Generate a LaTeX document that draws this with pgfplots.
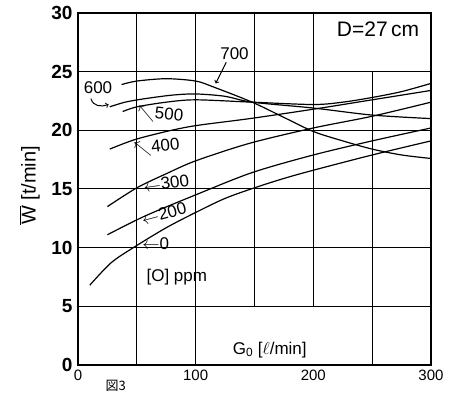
\documentclass[border=0pt]{standalone}
\usepackage{pgfplots}
\pgfplotsset{compat=1.18}
\usepackage{fontspec}
\setmainfont{Liberation Sans}
\newfontfamily\cjk{Noto Sans CJK JP}
\begin{document}
\begin{tikzpicture}
\begin{axis}[
  at={(0,0)}, anchor=south west,
  scale only axis, width=353pt, height=352pt,
  xmin=0, xmax=300, ymin=0, ymax=30,
  xtick={0,100,200,300}, ytick={0,5,10,15,20,25,30},
  major tick length=0pt,
  axis line style={line width=1.5pt},
  /pgf/number format/assume math mode=true,
  yticklabel style={font=\fontsize{19}{19}\selectfont\bfseries, xshift=-2pt},
  xticklabel style={font=\fontsize{15}{15}\selectfont, yshift=-1pt},
  clip=false,
]
% grid
\draw[line width=1pt] (axis cs:50,0) -- (axis cs:50,30);
\draw[line width=1pt] (axis cs:100,0) -- (axis cs:100,30);
\draw[line width=1pt] (axis cs:150,5) -- (axis cs:150,30);
\draw[line width=1pt] (axis cs:200,5) -- (axis cs:200,30);
\draw[line width=1pt] (axis cs:250,0) -- (axis cs:250,25);
\draw[line width=1pt] (axis cs:0,5) -- (axis cs:300,5);
\draw[line width=1pt] (axis cs:0,10) -- (axis cs:300,10);
\draw[line width=1pt] (axis cs:0,15.02) -- (axis cs:300,15.02);
\draw[line width=1pt] (axis cs:0,20) -- (axis cs:300,20);
\draw[line width=1pt] (axis cs:0,25) -- (axis cs:300,25);
% curves
\addplot[black, line width=1.2pt, smooth] coordinates {(10,6.8) (28,8.7) (47,10.0) (75,11.7) (100,13.0) (125,14.2) (150,15.1) (175,15.9) (200,16.6) (250,17.9) (300,19.1)};
\addplot[black, line width=1.2pt, smooth] coordinates {(25,11.1) (57,12.7) (100,14.5) (148,16.4) (200,17.9) (250,19.1) (300,20.2)};
\addplot[black, line width=1.2pt, smooth] coordinates {(25,13.5) (50,15.1) (75,16.3) (100,17.4) (146,18.9) (200,20.2) (250,21.2) (300,22.4)};
\addplot[black, line width=1.2pt, smooth] coordinates {(27,18.4) (48,19.2) (75,19.9) (100,20.4) (146,21.0) (200,21.8) (250,22.6) (300,23.4)};
\addplot[black, line width=1.2pt, smooth] coordinates {(38,21.6) (50,22.0) (75,22.4) (100,22.6) (148,22.4) (200,22.2) (225,22.4) (250,22.8) (275,23.3) (300,24.0)};
\addplot[black, line width=1.2pt, smooth] coordinates {(27,22.0) (40,22.4) (57,22.7) (80,23.0) (100,23.1) (125,22.9) (148,22.4) (200,21.9) (250,21.3) (300,21.0)};
\addplot[black, line width=1.2pt, smooth] coordinates {(37,23.9) (50,24.2) (75,24.4) (100,24.2) (115,23.7) (148,22.4) (175,21.1) (200,19.9) (225,19.1) (250,18.4) (275,17.9) (300,17.6)};
% labels
\node[font=\fontsize{17}{17}\selectfont] at (axis cs:17,23.6) {600};
\draw[line width=1pt, ->] (axis cs:11,22.7) .. controls (axis cs:13,22.0) and (axis cs:20,22.0) .. (axis cs:26,22.2);
\node[font=\fontsize{17}{17}\selectfont] at (axis cs:133,26.5) {700};
\draw[line width=1pt, ->] (axis cs:126,25.8) -- (axis cs:117,24.0);
\node[font=\fontsize{17}{17}\selectfont, rotate=-5] at (axis cs:70,21.3) {$\nwarrow$500};
\node[font=\fontsize{17}{17}\selectfont, rotate=6] at (axis cs:67,18.5) {$\nwarrow$400};
\node[font=\fontsize{17}{17}\selectfont, rotate=8, inner sep=0pt] at (axis cs:75,15.5) {$\leftarrow$300};
\node[font=\fontsize{17}{17}\selectfont, rotate=15, inner sep=0pt] at (axis cs:73,12.9) {$\leftarrow$200};
\node[font=\fontsize{17}{17}\selectfont, inner sep=0pt] at (axis cs:66,10.3) {$\leftarrow$0};
\node[font=\fontsize{17}{17}\selectfont] at (axis cs:84,7.5) {[O] ppm};
\node[font=\fontsize{21}{21}\selectfont] at (axis cs:255,28.6) {D=27\,cm};
\node[font=\fontsize{17}{17}\selectfont] at (axis cs:163,1.3) {G\textsubscript{0} [$\ell$/min]};
\node[font=\fontsize{20}{20}\selectfont, rotate=90] at (axis cs:-41,15.3) {$\overline{\mbox{W}}$ [t/min]};
\node[font=\cjk\fontsize{13}{13}\selectfont] at (axis cs:32,-1.8) {図3};
\end{axis}
\path (-78pt,-27pt) rectangle (381pt,365pt);
\end{tikzpicture}
\end{document}
